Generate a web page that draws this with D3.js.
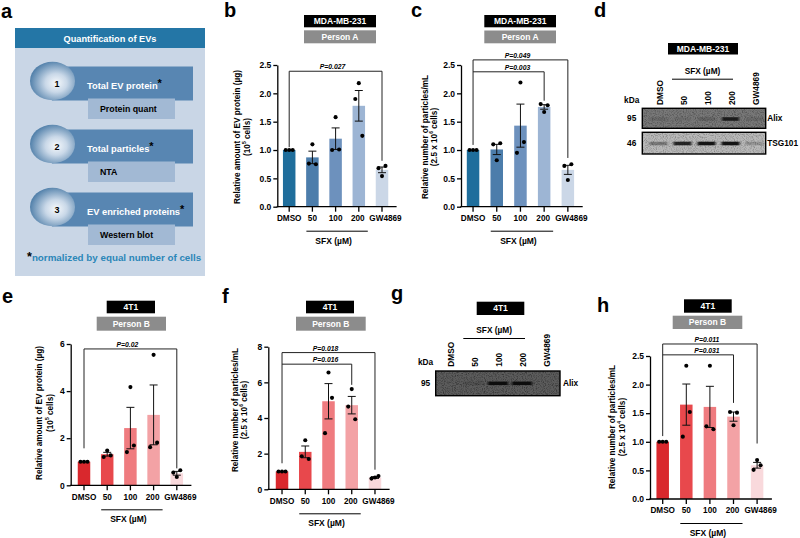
<!DOCTYPE html>
<html><head><meta charset="utf-8">
<script src="https://cdn.jsdelivr.net/npm/d3@7"></script>
<style>
html,body{margin:0;padding:0;background:#fff;}
svg{display:block;font-family:"Liberation Sans",Arial,Helvetica,sans-serif;}
</style></head><body>
<svg id="fig" width="800" height="538"></svg>
<script>
// ---------------- DATA ----------------
const categories = ["DMSO", "50", "100", "200", "GW4869"];
const groupLabel = "SFX (µM)";

// b: MDA-MB-231, EV protein
const bMeans = [1.00, 0.87, 1.20, 1.78, 0.65];
const bSem = [0, 0.11, 0.19, 0.27, 0.05];
const bPoints = [[1, 1, 1], [0.76, 1.10, 0.75], [1.00, 1.58, 1.01], [1.90, 2.18, 1.25], [0.68, 0.54, 0.72]];
const bStats = [{ target: "GW4869", label: "P=0.027", level: 2.39, drop: 0.81 }];
const bTicks = [0, 0.5, 1.0, 1.5, 2.0, 2.5];

// c: MDA-MB-231, particles
const cMeans = [1.00, 1.01, 1.43, 1.76, 0.65];
const cSem = [0, 0.09, 0.38, 0.04, 0.08];
const cPoints = [[1, 1, 1], [1.10, 0.82, 1.12], [0.95, 2.19, 1.14], [1.81, 1.67, 1.79], [0.72, 0.47, 0.75]];
const cStats = [{ target: "GW4869", label: "P=0.049", level: 2.59, drop: 0.86 },
                { target: "200", label: "P=0.003", level: 2.38, drop: 1.87 }];
const cTicks = [0, 0.5, 1.0, 1.5, 2.0, 2.5];

// e: 4T1, EV protein
const eMeans = [1.00, 1.32, 2.43, 2.99, 0.51];
const eSem = [0, 0.08, 0.88, 1.27, 0.08];
const ePoints = [[1, 1, 1], [1.20, 1.48, 1.27], [1.41, 4.17, 1.69], [1.62, 5.54, 1.81], [0.54, 0.35, 0.64]];
const eStats = [{ target: "GW4869", label: "P=0.02", level: 5.79, drop: 0.72 }];
const eTicks = [0, 2, 4, 6];

// f: 4T1, particles
const fMeans = [1.00, 2.10, 4.94, 4.72, 0.66];
const fSem = [0, 0.33, 0.99, 0.49, 0.05];
const fPoints = [[1, 1, 1], [1.85, 2.75, 1.70], [3.15, 6.55, 5.13], [4.64, 5.62, 3.93], [0.60, 0.66, 0.74]];
const fStats = [{ target: "GW4869", label: "P=0.018", level: 7.67, drop: 1.10 },
                { target: "200", label: "P=0.016", level: 7.02, drop: 5.86 }];
const fTicks = [0, 2, 4, 6, 8];

// h: 4T1, particles (Person B)
const hMeans = [1.00, 1.65, 1.61, 1.44, 0.59];
const hSem = [0, 0.36, 0.36, 0.08, 0.05];
const hPoints = [[1, 1, 1], [1.09, 2.33, 1.52], [1.27, 2.33, 1.22], [1.52, 1.29, 1.51], [0.51, 0.68, 0.59]];
const hStats = [{ target: "GW4869", label: "P=0.011", level: 2.71, drop: 0.97 },
                { target: "200", label: "P=0.031", level: 2.52, drop: 1.68 }];
const hTicks = [0, 0.5, 1.0, 1.5, 2.0, 2.5];

// western blots: relative band intensity per lane
const dAlixBands = [0.12, 0.08, 0.18, 0.85, 0.12];
const dTsgBands = [0.35, 0.85, 0.95, 0.95, 0.2];
const gAlixBands = [0.0, 0.12, 1.0, 1.0, 0.0];

// panel a texts
const aSteps = [
  { n: "1", title: "Total EV protein", method: "Protein quant" },
  { n: "2", title: "Total particles", method: "NTA" },
  { n: "3", title: "EV enriched proteins", method: "Western blot" }
];

// ---------------- STYLE ----------------
const blueColors = ["#1f6e9c", "#4c7dab", "#6d91bd", "#9db5d4", "#cbd7e7"];
const redColors = ["#d9282d", "#e8484c", "#ef7b7f", "#f3a2a5", "#f9d9dc"];
const labelShift = { "DMSO": 0, "50": 0, "100": 0, "200": -1, "GW4869": 3.5 };
const BOLD = 700;

const svg = d3.select("#fig");
const defs = svg.append("defs");

const rg = defs.append("radialGradient").attr("id", "ball").attr("cx", "58%").attr("cy", "55%").attr("r", "60%");
rg.append("stop").attr("offset", "0%").attr("stop-color", "#f6f9fc");
rg.append("stop").attr("offset", "40%").attr("stop-color", "#c9d8e8");
rg.append("stop").attr("offset", "100%").attr("stop-color", "#4c7ca7");

const nf = defs.append("filter").attr("id", "noise").attr("x", 0).attr("y", 0).attr("width", "100%").attr("height", "100%");
nf.append("feTurbulence").attr("type", "fractalNoise").attr("baseFrequency", 0.9).attr("numOctaves", 2).attr("seed", 4);
nf.append("feColorMatrix").attr("type", "matrix").attr("values", "0 0 0 0 0  0 0 0 0 0  0 0 0 0 0  2.2 0 0 0 -0.95");
const bf = defs.append("filter").attr("id", "bandblur").attr("x", "-30%").attr("y", "-100%").attr("width", "160%").attr("height", "300%");
bf.append("feGaussianBlur").attr("stdDeviation", "0.9 0.6");

function panelLetter(ch, x, y) {
  svg.append("text").attr("x", x).attr("y", y).attr("font-size", 20).attr("font-weight", BOLD).text(ch);
}
function labelBox(x1, x2, y1, y2, fill, txt) {
  svg.append("rect").attr("x", x1).attr("y", y1).attr("width", x2 - x1).attr("height", y2 - y1).attr("fill", fill);
  svg.append("text").attr("x", (x1 + x2) / 2).attr("y", (y1 + y2) / 2).attr("text-anchor", "middle")
    .attr("dominant-baseline", "central").attr("fill", "#fff").attr("font-size", 8.5).attr("font-weight", BOLD).text(txt);
}

// ---------------- PANEL A ----------------
(function () {
  const g = svg.append("g");
  g.append("rect").attr("x", 15).attr("y", 28).attr("width", 190).attr("height", 248).attr("fill", "#c9d6e6");
  g.append("rect").attr("x", 15).attr("y", 28).attr("width", 190).attr("height", 20).attr("fill", "#2476a6");
  g.append("text").attr("x", 110).attr("y", 38.5).attr("text-anchor", "middle").attr("dominant-baseline", "central")
    .attr("fill", "#fff").attr("font-size", 9.2).attr("font-weight", BOLD).text("Quantification of EVs");
  const yStep = d3.scalePoint().domain(aSteps.map(d => d.n)).range([81, 207]);
  aSteps.forEach(s => {
    const cy = yStep(s.n);
    g.append("rect").attr("x", 52).attr("y", cy - 14.5).attr("width", 141).attr("height", 34).attr("fill", "#5886b2");
    g.append("rect").attr("x", 88).attr("y", cy + 17.5).attr("width", 87).attr("height", 20.5).attr("fill", "#a2b9d4");
    g.append("ellipse").attr("cx", 52.5).attr("cy", cy).attr("rx", 22.5).attr("ry", 19.3).attr("fill", "url(#ball)");
    g.append("text").attr("x", 57).attr("y", cy + 3).attr("text-anchor", "middle").attr("dominant-baseline", "central")
      .attr("font-size", 9).attr("font-weight", BOLD).text(s.n);
    const t = g.append("text").attr("x", 87).attr("y", cy + 5).attr("dominant-baseline", "central")
      .attr("font-size", 9.3).attr("font-weight", BOLD).attr("fill", "#fff");
    t.append("tspan").text(s.title);
    t.append("tspan").attr("fill", "#000").attr("font-size", 11).attr("dy", -3).text("*");
    g.append("text").attr("x", 100).attr("y", cy + 27.5).attr("dominant-baseline", "central")
      .attr("font-size", 8.8).attr("font-weight", BOLD).text(s.method);
  });
  const ft = g.append("text").attr("x", 27).attr("y", 261).attr("font-size", 9.8).attr("font-weight", BOLD).attr("fill", "#2b86b8");
  ft.append("tspan").attr("fill", "#000").attr("font-size", 12.5).text("*");
  ft.append("tspan").text("normalized by equal number of cells");
})();

// ---------------- BAR PANELS ----------------
function barPanel(p) {
  const g = svg.append("g");
  const x = d3.scaleBand().domain(categories).range([p.xStart, p.xEnd]);
  const y = d3.scaleLinear().domain([0, p.yMax]).range([p.y0, p.yTop]);
  const cx = c => x(c) + x.bandwidth() / 2;
  const bw = 12.5;
  const rows = categories.map((c, i) => ({ c, m: p.means[i], e: p.sem[i], pts: p.points[i], col: p.colors[i] }));

  g.selectAll("rect.bar").data(rows).join("rect").attr("class", "bar")
    .attr("x", d => cx(d.c) - bw / 2).attr("y", d => y(d.m))
    .attr("width", bw).attr("height", d => p.y0 - y(d.m)).attr("fill", d => d.col);

  const eb = rows.filter(d => d.e > 0);
  g.selectAll("line.err").data(eb).join("line").attr("class", "err")
    .attr("x1", d => cx(d.c)).attr("x2", d => cx(d.c)).attr("y1", d => y(d.m - d.e)).attr("y2", d => y(d.m + d.e))
    .attr("stroke", "#111").attr("stroke-width", 1);
  [1, -1].forEach(sgn => {
    g.selectAll(null).data(eb).join("line")
      .attr("x1", d => cx(d.c) - 4).attr("x2", d => cx(d.c) + 4)
      .attr("y1", d => y(d.m + sgn * d.e)).attr("y2", d => y(d.m + sgn * d.e))
      .attr("stroke", "#111").attr("stroke-width", 1);
  });

  const jitter = [-3.5, 0, 3.5];
  const pts = rows.flatMap(d => d.pts.map((v, k) => ({ c: d.c, v, k })));
  g.selectAll("circle.pt").data(pts).join("circle").attr("class", "pt")
    .attr("cx", d => cx(d.c) + jitter[d.k]).attr("cy", d => y(d.v)).attr("r", 2.05).attr("fill", "#000");

  // y axis
  const ya = d3.axisLeft(y).tickValues(p.ticks).tickFormat(d3.format(p.fmt)).tickSize(4).tickSizeOuter(0).tickPadding(2);
  const yg = g.append("g").attr("transform", `translate(${p.axisX},0)`).call(ya);
  yg.selectAll("text").attr("font-size", 8.5).attr("font-weight", BOLD).attr("font-family", null).attr("fill", "#000");
  yg.selectAll("line,path").attr("stroke", "#000").attr("stroke-width", 1.3);

  // x axis
  const xa = d3.axisBottom(x).tickSize(5).tickSizeOuter(0).tickPadding(2);
  const xg = g.append("g").attr("transform", `translate(0,${p.y0})`).call(xa);
  xg.select(".domain").remove();
  xg.selectAll("text").attr("font-size", 8.2).attr("font-weight", BOLD).attr("font-family", null).attr("fill", "#000")
    .attr("dy", null).attr("y", 11.8).attr("x", c => labelShift[c]).attr("dominant-baseline", "central");
  xg.selectAll("line").attr("stroke", "#000").attr("stroke-width", 1.3);
  g.append("line").attr("x1", p.axisX - 0.6).attr("x2", p.xEnd + 3).attr("y1", p.y0).attr("y2", p.y0)
    .attr("stroke", "#000").attr("stroke-width", 1.3);

  // SFX group line
  g.append("line").attr("x1", cx("50") - 6).attr("x2", cx("200") + 9).attr("y1", p.y0 + 24.5).attr("y2", p.y0 + 24.5)
    .attr("stroke", "#000").attr("stroke-width", 1);
  g.append("text").attr("x", cx("100") - 2).attr("y", p.y0 + 34).attr("text-anchor", "middle").attr("dominant-baseline", "central")
    .attr("font-size", 8.5).attr("font-weight", BOLD).text(groupLabel);

  // significance brackets
  const topLevel = d3.max(p.stats, s => s.level);
  g.append("line").attr("x1", cx("DMSO")).attr("x2", cx("DMSO")).attr("y1", y(topLevel)).attr("y2", y(p.leftDrop))
    .attr("stroke", "#222").attr("stroke-width", 1);
  p.stats.forEach(s => {
    g.append("line").attr("x1", cx("DMSO")).attr("x2", cx(s.target)).attr("y1", y(s.level)).attr("y2", y(s.level))
      .attr("stroke", "#222").attr("stroke-width", 1);
    g.append("line").attr("x1", cx(s.target)).attr("x2", cx(s.target)).attr("y1", y(s.level)).attr("y2", y(s.drop))
      .attr("stroke", "#222").attr("stroke-width", 1);
    g.append("text").attr("x", cx("100") - 3).attr("y", y(s.level) - 2).attr("text-anchor", "middle")
      .attr("font-size", 6.8).attr("font-weight", BOLD).attr("font-style", "italic").text(s.label);
  });

  // y title
  g.append("text").attr("transform", `translate(${p.axisX + p.titleDx[0]},${p.titleY}) rotate(-90)`)
    .attr("text-anchor", "middle").attr("dominant-baseline", "central").attr("font-size", 8.2).attr("font-weight", BOLD)
    .text(p.title1);
  const t2 = g.append("text").attr("transform", `translate(${p.axisX + p.titleDx[1]},${p.titleY}) rotate(-90)`)
    .attr("text-anchor", "middle").attr("dominant-baseline", "central").attr("font-size", 8.2).attr("font-weight", BOLD);
  t2.append("tspan").text(p.title2[0]);
  t2.append("tspan").attr("font-size", 5).attr("baseline-shift", "super").text(p.title2[1]);
  t2.append("tspan").text(p.title2[2]);
}

const protTitle = "Relative amount of EV protein (µg)";
const partTitle = "Relative number of particles/mL";

barPanel({ means: bMeans, sem: bSem, points: bPoints, stats: bStats, ticks: bTicks, fmt: ".1f", colors: blueColors,
  yMax: 2.5, y0: 206.7, yTop: 65, axisX: 277.3, xStart: 277.6, xEnd: 393.6, leftDrop: 1.05,
  title1: protTitle, title2: ["(10", "5", " cells)"], titleDx: [-40, -30], titleY: 137 });
barPanel({ means: cMeans, sem: cSem, points: cPoints, stats: cStats, ticks: cTicks, fmt: ".1f", colors: blueColors,
  yMax: 2.5, y0: 206.7, yTop: 65, axisX: 461, xStart: 461.2, xEnd: 579.7, leftDrop: 1.09,
  title1: partTitle, title2: ["(2.5 x 10", "6", " cells)"], titleDx: [-36, -27], titleY: 137 });
barPanel({ means: eMeans, sem: eSem, points: ePoints, stats: eStats, ticks: eTicks, fmt: "d", colors: redColors,
  yMax: 6, y0: 485.3, yTop: 344, axisX: 70.7, xStart: 72.4, xEnd: 188.4, leftDrop: 1.57,
  title1: protTitle, title2: ["(10", "5", " cells)"], titleDx: [-31, -21], titleY: 413 });
barPanel({ means: fMeans, sem: fSem, points: fPoints, stats: fStats, ticks: fTicks, fmt: "d", colors: redColors,
  yMax: 8, y0: 489.3, yTop: 346.7, axisX: 268.3, xStart: 270.4, xEnd: 386.6, leftDrop: 1.46,
  title1: partTitle, title2: ["(2.5 x 10", "6", " cells)"], titleDx: [-33, -24], titleY: 410 });
barPanel({ means: hMeans, sem: hSem, points: hPoints, stats: hStats, ticks: hTicks, fmt: ".1f", colors: redColors,
  yMax: 2.5, y0: 499, yTop: 356, axisX: 650, xStart: 650.9, xEnd: 768.9, leftDrop: 1.10,
  title1: partTitle, title2: ["(2.5 x 10", "4", " cells)"], titleDx: [-38, -28], titleY: 427 });

// ---------------- BLOT PANELS ----------------
function blot(p) {
  const g = svg.append("g");
  const lane = d3.scalePoint().domain(categories).range(p.laneRange);
  g.selectAll("text.lane").data(categories).join("text")
    .attr("transform", c => `translate(${lane(c) + 1},${p.labelBottom}) rotate(-90)`)
    .attr("dominant-baseline", "central").attr("font-size", 8.3).attr("font-weight", BOLD).text(c => c);
  g.append("text").attr("x", p.kdaX).attr("y", p.labelBottom - 5).attr("text-anchor", "middle").attr("dominant-baseline", "central")
    .attr("font-size", 8.3).attr("font-weight", BOLD).text("kDa");
  g.append("line").attr("x1", p.sfxLine[0]).attr("x2", p.sfxLine[1]).attr("y1", p.sfxY + 8.5).attr("y2", p.sfxY + 8.5)
    .attr("stroke", "#000").attr("stroke-width", 1);
  g.append("text").attr("x", (p.sfxLine[0] + p.sfxLine[1]) / 2).attr("y", p.sfxY).attr("text-anchor", "middle").attr("dominant-baseline", "central")
    .attr("font-size", 8.3).attr("font-weight", BOLD).text(groupLabel);
  p.strips.forEach(s => {
    g.append("rect").attr("x", p.x1).attr("y", s.y1).attr("width", p.x2 - p.x1).attr("height", s.y2 - s.y1).attr("fill", s.bg);
    g.append("rect").attr("x", p.x1).attr("y", s.y1).attr("width", p.x2 - p.x1).attr("height", s.y2 - s.y1)
      .attr("filter", "url(#noise)").attr("opacity", s.noise);
    g.selectAll(null).data(s.bands.map((v, i) => ({ c: categories[i], v }))).join("rect")
      .attr("x", d => lane(d.c) - s.bw / 2).attr("y", s.bandY - 1.8).attr("width", s.bw).attr("height", 3.6)
      .attr("fill", "#111").attr("opacity", d => d.v).attr("filter", "url(#bandblur)");
    g.append("rect").attr("x", p.x1).attr("y", s.y1).attr("width", p.x2 - p.x1).attr("height", s.y2 - s.y1)
      .attr("fill", "none").attr("stroke", "#000").attr("stroke-width", 1.4);
    g.append("text").attr("x", p.kdaX).attr("y", (s.y1 + s.y2) / 2).attr("text-anchor", "middle").attr("dominant-baseline", "central")
      .attr("font-size", 8.3).attr("font-weight", BOLD).text(s.kda);
    g.append("text").attr("x", p.x2 + p.nameDx).attr("y", (s.y1 + s.y2) / 2).attr("dominant-baseline", "central")
      .attr("font-size", 8.3).attr("font-weight", BOLD).text(s.name);
  });
}

blot({ laneRange: [658.5, 754.5], labelBottom: 105, kdaX: 631.7, sfxY: 70.7, sfxLine: [672, 733],
  x1: 642.3, x2: 765.7, nameDx: 1.5,
  strips: [
    { y1: 108.3, y2: 128.3, bg: "#787878", noise: 0.35, bands: dAlixBands, bandY: 119, bw: 17, kda: "95", name: "Alix" },
    { y1: 132.3, y2: 154, bg: "#b9b9b9", noise: 0.3, bands: dTsgBands, bandY: 143.5, bw: 18, kda: "46", name: "TSG101" }
  ] });
blot({ laneRange: [450, 546], labelBottom: 366.7, kdaX: 425.5, sfxY: 330, sfxLine: [463.3, 525],
  x1: 435.7, x2: 560, nameDx: 3,
  strips: [
    { y1: 371, y2: 395.7, bg: "#5c5c5c", noise: 0.45, bands: gAlixBands, bandY: 383.3, bw: 20, kda: "95", name: "Alix" }
  ] });

// ---------------- HEADERS & LETTERS ----------------
labelBox(304, 376, 15, 27.3, "#000", "MDA-MB-231");
labelBox(304, 376, 30.3, 43.3, "#8c8c8c", "Person A");
labelBox(484.3, 556, 15, 27.3, "#000", "MDA-MB-231");
labelBox(484.3, 556, 30.5, 43.3, "#8c8c8c", "Person A");
labelBox(668, 738, 43, 54.5, "#000", "MDA-MB-231");
labelBox(106.7, 155, 300.7, 313.3, "#000", "4T1");
labelBox(96.7, 166, 316.7, 330.7, "#8c8c8c", "Person B");
labelBox(306, 354, 300.7, 313.3, "#000", "4T1");
labelBox(296, 365.7, 316.7, 330.7, "#8c8c8c", "Person B");
labelBox(476.7, 524.3, 301.7, 315, "#000", "4T1");
labelBox(684, 731.7, 299.3, 312.7, "#000", "4T1");
labelBox(672.7, 742.3, 315.7, 329, "#8c8c8c", "Person B");

panelLetter("a", 1, 18);
panelLetter("b", 224, 16.5);
panelLetter("c", 411, 17);
panelLetter("d", 594, 17);
panelLetter("e", 2, 303);
panelLetter("f", 222, 303);
panelLetter("g", 391, 300);
panelLetter("h", 597, 312);
</script>
</body></html>
